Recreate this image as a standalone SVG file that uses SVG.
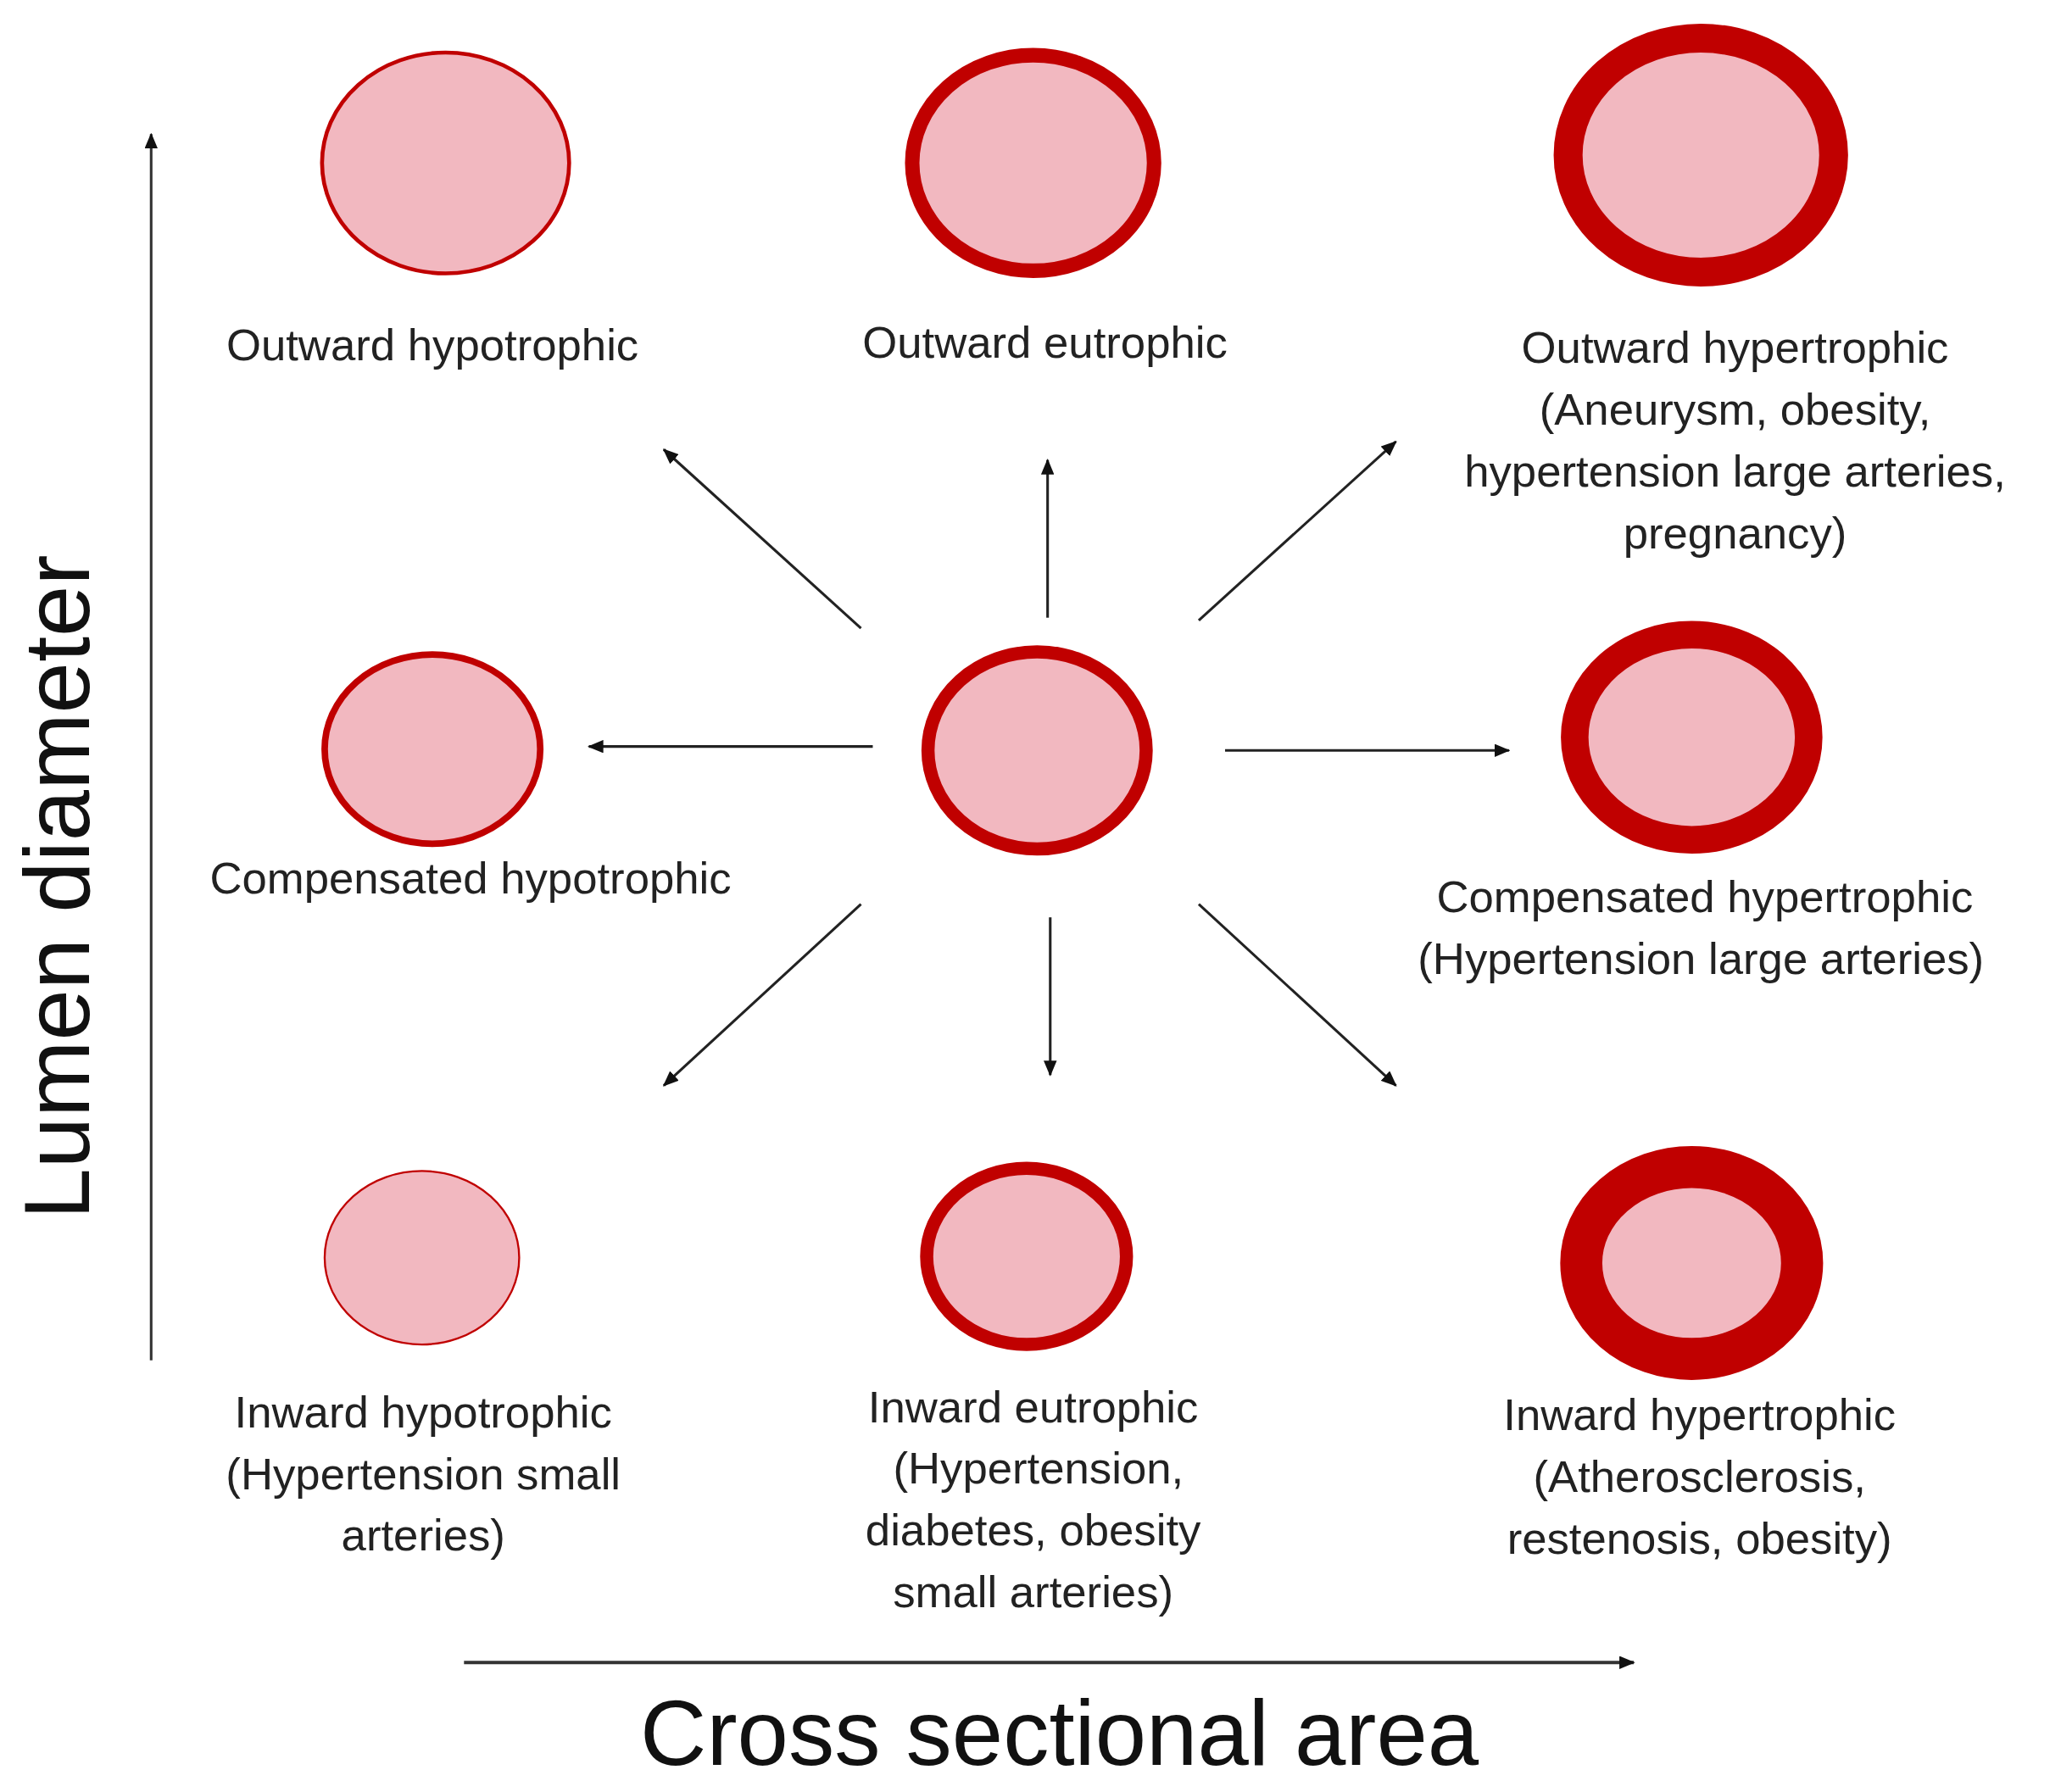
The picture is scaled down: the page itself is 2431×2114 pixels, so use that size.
<svg xmlns="http://www.w3.org/2000/svg" width="2431" height="2114" viewBox="0 0 2431 2114">
<style>
.v{fill:#f2b8c0;stroke:#c00000}
.t{font-family:"Liberation Sans",Arial,sans-serif;font-size:34px;fill:#222;text-anchor:middle}
.big{font-family:"Liberation Sans",Arial,sans-serif;font-size:70px;fill:#111;text-anchor:middle}
.a{stroke:#222;stroke-width:2;fill:none;marker-end:url(#ah)}
</style>
<defs>
<marker id="ah" viewBox="0 0 12 10" refX="11" refY="5" markerWidth="12" markerHeight="10" markerUnits="userSpaceOnUse" orient="auto"><path d="M0,0 L12,5 L0,10 z" fill="#111"/></marker>
<marker id="ah2" viewBox="0 0 12 10" refX="11" refY="5" markerWidth="12" markerHeight="10" orient="auto"><path d="M0,0 L12,5 L0,10 z" fill="#111"/></marker>
</defs>
<rect width="2431" height="2114" fill="#fff"/>
<g transform="scale(1.5504)">
<g id="axes">
<line x1="115" y1="1035" x2="115" y2="102" stroke="#333" stroke-width="2" marker-end="url(#ah)" style="marker-end:url(#ah)"/>
<line x1="353" y1="1265" x2="1243" y2="1265" stroke="#333" stroke-width="2.5" marker-end="url(#ah)"/>
<text class="big" transform="translate(68,675) rotate(-90)">Lumen diameter</text>
<text class="big" x="806" y="1343">Cross sectional area</text>
</g>
<g id="connectors">
<line class="a" x1="655" y1="478" x2="505" y2="342"/>
<line class="a" x1="797" y1="470" x2="797" y2="350"/>
<line class="a" x1="912" y1="472" x2="1062" y2="336"/>
<line class="a" x1="664" y1="568" x2="448" y2="568"/>
<line class="a" x1="932" y1="571" x2="1148" y2="571"/>
<line class="a" x1="655" y1="688" x2="505" y2="826"/>
<line class="a" x1="799" y1="698" x2="799" y2="818"/>
<line class="a" x1="912" y1="688" x2="1062" y2="826"/>
</g>
<g id="center"><ellipse class="v" cx="789" cy="571" rx="83" ry="75" stroke-width="10"/></g>
<g id="outward-hypotrophic"><ellipse class="v" cx="339" cy="124" rx="94" ry="84" stroke-width="3"/>
<text class="t" x="329" y="274">Outward hypotrophic</text></g>
<g id="outward-eutrophic"><ellipse class="v" cx="786" cy="124" rx="92" ry="82" stroke-width="11"/>
<text class="t" x="795" y="272">Outward eutrophic</text></g>
<g id="outward-hypertrophic"><ellipse class="v" cx="1294" cy="118" rx="101" ry="89" stroke-width="22"/>
<text class="t" x="1320" y="276">Outward hypertrophic</text>
<text class="t" x="1320" y="323">(Aneurysm, obesity,</text>
<text class="t" x="1320" y="370">hypertension large arteries,</text>
<text class="t" x="1320" y="417">pregnancy)</text></g>
<g id="compensated-hypotrophic"><ellipse class="v" cx="329" cy="570" rx="82" ry="72" stroke-width="5"/>
<text class="t" x="358" y="680">Compensated hypotrophic</text></g>
<g id="compensated-hypertrophic"><ellipse class="v" cx="1287" cy="561" rx="89" ry="78" stroke-width="21"/>
<text class="t" x="1297" y="694">Compensated hypertrophic</text>
<text class="t" x="1294" y="741">(Hypertension large arteries)</text></g>
<g id="inward-hypotrophic"><ellipse class="v" cx="321" cy="957" rx="74" ry="66" stroke-width="1.5" stroke="#d04040"/>
<text class="t" x="322" y="1086">Inward hypotrophic</text>
<text class="t" x="322" y="1133">(Hypertension small</text>
<text class="t" x="322" y="1180">arteries)</text></g>
<g id="inward-eutrophic"><ellipse class="v" cx="781" cy="956" rx="76" ry="67" stroke-width="10"/>
<text class="t" x="786" y="1082">Inward eutrophic</text>
<text class="t" x="790" y="1129">(Hypertension,</text>
<text class="t" x="786" y="1176">diabetes, obesity</text>
<text class="t" x="786" y="1223">small arteries)</text></g>
<g id="inward-hypertrophic"><ellipse class="v" cx="1287" cy="961" rx="84" ry="73" stroke-width="32"/>
<text class="t" x="1293" y="1088">Inward hypertrophic</text>
<text class="t" x="1293" y="1135">(Atherosclerosis,</text>
<text class="t" x="1293" y="1182">restenosis, obesity)</text></g>
</g>
</svg>
